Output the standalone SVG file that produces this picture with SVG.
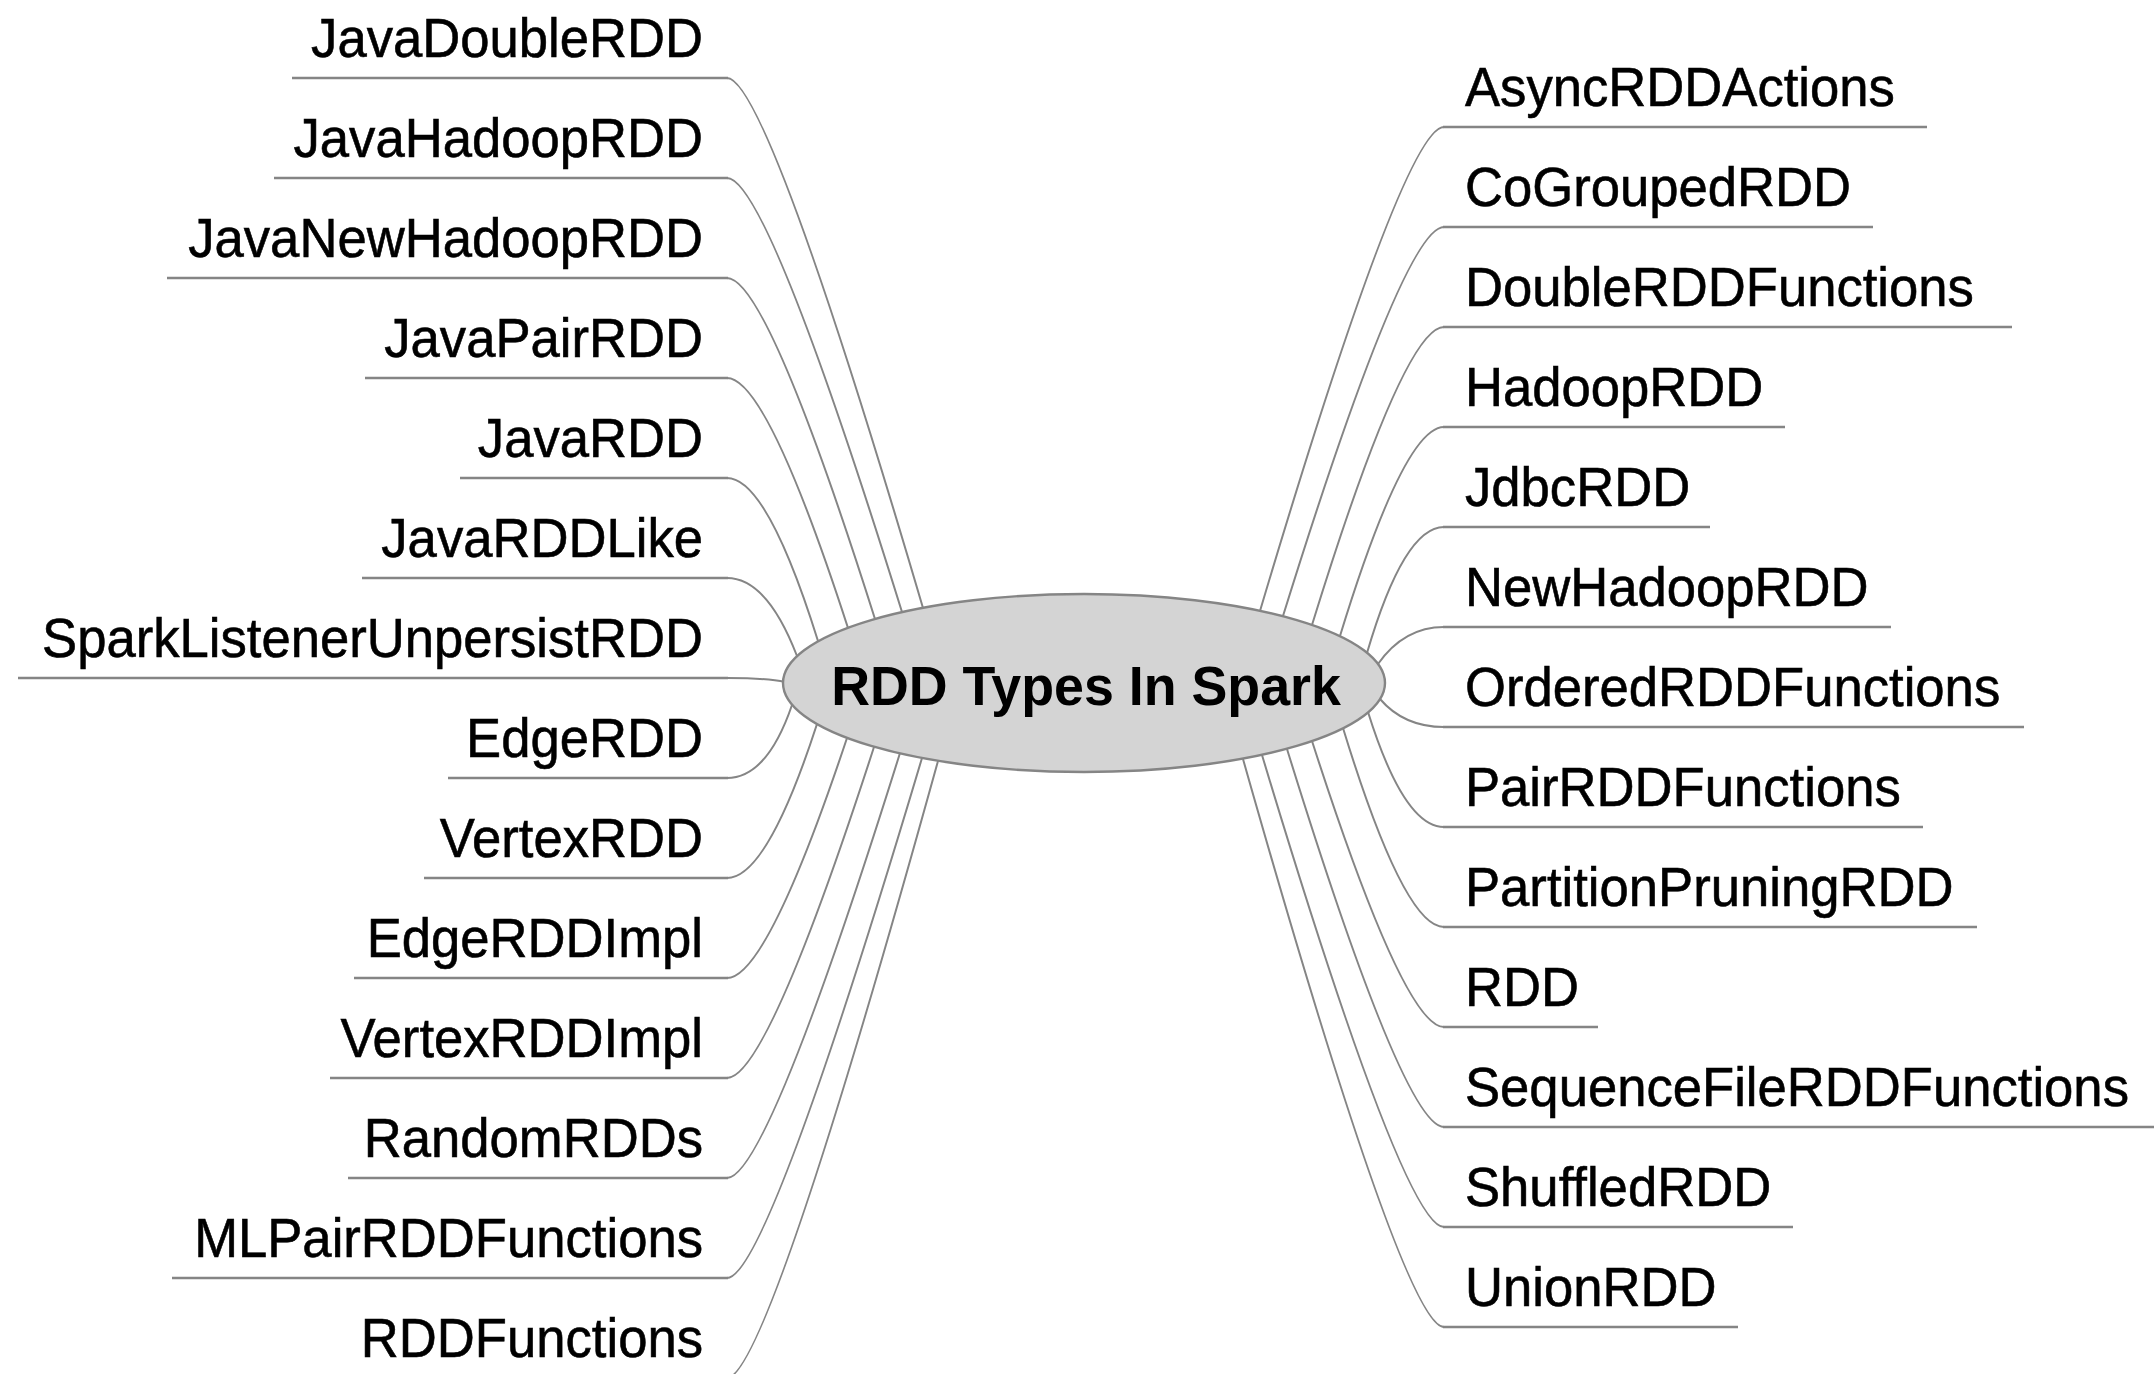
<svg xmlns="http://www.w3.org/2000/svg" width="2154" height="1374" viewBox="0 0 2154 1374">
  <style>
    .bg { fill: #ffffff; }
    .link { fill: none; stroke: #858585; stroke-width: 2; }
    .under { fill: none; stroke: #858585; stroke-width: 2.4; }
    .leaf { font-family: "Liberation Sans", Arial, sans-serif; font-size: 56px; fill: #000000; stroke: #000000; stroke-width: 0.6; }
    .leaf-l { text-anchor: end; }
    .leaf-r { text-anchor: start; }
    .hub { fill: #d4d4d4; stroke: #858585; stroke-width: 2.4; }
    .hub-text { font-family: "Liberation Sans", Arial, sans-serif; font-size: 56px; font-weight: bold; fill: #000000; text-anchor: middle; }
  </style>
  <rect class="bg" x="0" y="0" width="2154" height="1374"/>

  <!-- curved links from the central topic to each branch underline -->
  <g id="connectors">
    <!-- left side: corner at x=727, control point 40px inward -->
    <path class="link" d="M727,78 Q767,78 923,608"/>
    <path class="link" d="M727,178 Q767,178 902,612"/>
    <path class="link" d="M727,278 Q767,278 875,619"/>
    <path class="link" d="M727,378 Q767,378 848,628"/>
    <path class="link" d="M727,478 Q767,478 818,641"/>
    <path class="link" d="M727,578 Q767,578 797,656"/>
    <path class="link" d="M727,678 Q767,678 785,682"/>
    <path class="link" d="M727,778 Q767,778 792,705"/>
    <path class="link" d="M727,878 Q767,878 817,724"/>
    <path class="link" d="M727,978 Q767,978 847,738"/>
    <path class="link" d="M727,1078 Q767,1078 874,747"/>
    <path class="link" d="M727,1178 Q767,1178 900,753"/>
    <path class="link" d="M727,1278 Q767,1278 922,758"/>
    <path class="link" d="M727,1378 Q767,1378 938,761"/>
    <!-- right side: corner at x=1444 -->
    <path class="link" d="M1260,611 Q1404,127 1444,127"/>
    <path class="link" d="M1283,616 Q1404,227 1444,227"/>
    <path class="link" d="M1312,625 Q1404,327 1444,327"/>
    <path class="link" d="M1340,636 Q1404,427 1444,427"/>
    <path class="link" d="M1367,653 Q1404,527 1444,527"/>
    <path class="link" d="M1378,664 Q1404,627 1444,627"/>
    <path class="link" d="M1380,699 Q1404,727 1444,727"/>
    <path class="link" d="M1368,712 Q1404,827 1444,827"/>
    <path class="link" d="M1343,728 Q1404,927 1444,927"/>
    <path class="link" d="M1312,741 Q1404,1027 1444,1027"/>
    <path class="link" d="M1287,749 Q1404,1127 1444,1127"/>
    <path class="link" d="M1262,755 Q1404,1227 1444,1227"/>
    <path class="link" d="M1243,759 Q1404,1327 1444,1327"/>
  </g>

  <!-- central topic -->
  <g id="node-root">
    <ellipse class="hub" cx="1084" cy="683" rx="301" ry="89"/>
    <text class="hub-text" transform="translate(1086,705) scale(0.96,1)">RDD Types In Spark</text>
  </g>

  <!-- left branches -->
  <g id="node-JavaDoubleRDD">
    <line class="under" x1="292" y1="78" x2="728" y2="78"/>
    <text class="leaf leaf-l" transform="translate(703,57) scale(0.94,1)">JavaDoubleRDD</text>
  </g>
  <g id="node-JavaHadoopRDD">
    <line class="under" x1="274" y1="178" x2="728" y2="178"/>
    <text class="leaf leaf-l" transform="translate(703,157) scale(0.94,1)">JavaHadoopRDD</text>
  </g>
  <g id="node-JavaNewHadoopRDD">
    <line class="under" x1="167" y1="278" x2="728" y2="278"/>
    <text class="leaf leaf-l" transform="translate(703,257) scale(0.94,1)">JavaNewHadoopRDD</text>
  </g>
  <g id="node-JavaPairRDD">
    <line class="under" x1="365" y1="378" x2="728" y2="378"/>
    <text class="leaf leaf-l" transform="translate(703,357) scale(0.94,1)">JavaPairRDD</text>
  </g>
  <g id="node-JavaRDD">
    <line class="under" x1="460" y1="478" x2="728" y2="478"/>
    <text class="leaf leaf-l" transform="translate(703,457) scale(0.94,1)">JavaRDD</text>
  </g>
  <g id="node-JavaRDDLike">
    <line class="under" x1="362" y1="578" x2="728" y2="578"/>
    <text class="leaf leaf-l" transform="translate(703,557) scale(0.94,1)">JavaRDDLike</text>
  </g>
  <g id="node-SparkListenerUnpersistRDD">
    <line class="under" x1="18" y1="678" x2="728" y2="678"/>
    <text class="leaf leaf-l" transform="translate(703,657) scale(0.94,1)">SparkListenerUnpersistRDD</text>
  </g>
  <g id="node-EdgeRDD">
    <line class="under" x1="448" y1="778" x2="728" y2="778"/>
    <text class="leaf leaf-l" transform="translate(703,757) scale(0.94,1)">EdgeRDD</text>
  </g>
  <g id="node-VertexRDD">
    <line class="under" x1="424" y1="878" x2="728" y2="878"/>
    <text class="leaf leaf-l" transform="translate(703,857) scale(0.94,1)">VertexRDD</text>
  </g>
  <g id="node-EdgeRDDImpl">
    <line class="under" x1="354" y1="978" x2="728" y2="978"/>
    <text class="leaf leaf-l" transform="translate(703,957) scale(0.94,1)">EdgeRDDImpl</text>
  </g>
  <g id="node-VertexRDDImpl">
    <line class="under" x1="330" y1="1078" x2="728" y2="1078"/>
    <text class="leaf leaf-l" transform="translate(703,1057) scale(0.94,1)">VertexRDDImpl</text>
  </g>
  <g id="node-RandomRDDs">
    <line class="under" x1="348" y1="1178" x2="728" y2="1178"/>
    <text class="leaf leaf-l" transform="translate(703,1157) scale(0.94,1)">RandomRDDs</text>
  </g>
  <g id="node-MLPairRDDFunctions">
    <line class="under" x1="172" y1="1278" x2="728" y2="1278"/>
    <text class="leaf leaf-l" transform="translate(703,1257) scale(0.94,1)">MLPairRDDFunctions</text>
  </g>
  <g id="node-RDDFunctions">
    <line class="under" x1="342" y1="1378" x2="728" y2="1378"/>
    <text class="leaf leaf-l" transform="translate(703,1357) scale(0.94,1)">RDDFunctions</text>
  </g>

  <!-- right branches -->
  <g id="node-AsyncRDDActions">
    <line class="under" x1="1443" y1="127" x2="1927" y2="127"/>
    <text class="leaf leaf-r" transform="translate(1465,106) scale(0.94,1)">AsyncRDDActions</text>
  </g>
  <g id="node-CoGroupedRDD">
    <line class="under" x1="1443" y1="227" x2="1873" y2="227"/>
    <text class="leaf leaf-r" transform="translate(1465,206) scale(0.94,1)">CoGroupedRDD</text>
  </g>
  <g id="node-DoubleRDDFunctions">
    <line class="under" x1="1443" y1="327" x2="2012" y2="327"/>
    <text class="leaf leaf-r" transform="translate(1465,306) scale(0.94,1)">DoubleRDDFunctions</text>
  </g>
  <g id="node-HadoopRDD">
    <line class="under" x1="1443" y1="427" x2="1785" y2="427"/>
    <text class="leaf leaf-r" transform="translate(1465,406) scale(0.94,1)">HadoopRDD</text>
  </g>
  <g id="node-JdbcRDD">
    <line class="under" x1="1443" y1="527" x2="1710" y2="527"/>
    <text class="leaf leaf-r" transform="translate(1465,506) scale(0.94,1)">JdbcRDD</text>
  </g>
  <g id="node-NewHadoopRDD">
    <line class="under" x1="1443" y1="627" x2="1891" y2="627"/>
    <text class="leaf leaf-r" transform="translate(1465,606) scale(0.94,1)">NewHadoopRDD</text>
  </g>
  <g id="node-OrderedRDDFunctions">
    <line class="under" x1="1443" y1="727" x2="2024" y2="727"/>
    <text class="leaf leaf-r" transform="translate(1465,706) scale(0.94,1)">OrderedRDDFunctions</text>
  </g>
  <g id="node-PairRDDFunctions">
    <line class="under" x1="1443" y1="827" x2="1923" y2="827"/>
    <text class="leaf leaf-r" transform="translate(1465,806) scale(0.94,1)">PairRDDFunctions</text>
  </g>
  <g id="node-PartitionPruningRDD">
    <line class="under" x1="1443" y1="927" x2="1977" y2="927"/>
    <text class="leaf leaf-r" transform="translate(1465,906) scale(0.94,1)">PartitionPruningRDD</text>
  </g>
  <g id="node-RDD">
    <line class="under" x1="1443" y1="1027" x2="1598" y2="1027"/>
    <text class="leaf leaf-r" transform="translate(1465,1006) scale(0.94,1)">RDD</text>
  </g>
  <g id="node-SequenceFileRDDFunctions">
    <line class="under" x1="1443" y1="1127" x2="2154" y2="1127"/>
    <text class="leaf leaf-r" transform="translate(1465,1106) scale(0.94,1)">SequenceFileRDDFunctions</text>
  </g>
  <g id="node-ShuffledRDD">
    <line class="under" x1="1443" y1="1227" x2="1793" y2="1227"/>
    <text class="leaf leaf-r" transform="translate(1465,1206) scale(0.94,1)">ShuffledRDD</text>
  </g>
  <g id="node-UnionRDD">
    <line class="under" x1="1443" y1="1327" x2="1738" y2="1327"/>
    <text class="leaf leaf-r" transform="translate(1465,1306) scale(0.94,1)">UnionRDD</text>
  </g>
</svg>
